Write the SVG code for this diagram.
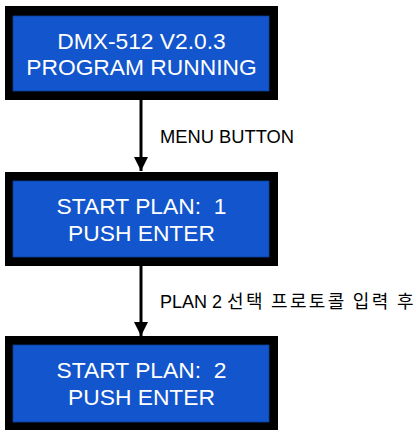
<svg xmlns="http://www.w3.org/2000/svg" width="416" height="435" viewBox="0 0 416 435">
<defs>
<style>
.frame{fill:#000}
.screen{fill:#1255cc;stroke:#0b3f99;stroke-width:0.8}
.lcd{font-family:"Liberation Sans",Arial,sans-serif;font-size:22.8px;fill:#fff;text-anchor:middle;white-space:pre}
.lbl{font-family:"Liberation Sans","Noto Sans CJK KR",sans-serif;font-size:18px;fill:#000}
.conn{stroke:#000;stroke-width:3;fill:none}
</style>
<marker id="ah" markerUnits="userSpaceOnUse" markerWidth="14" markerHeight="17" refX="14" refY="7" orient="auto">
<path d="M0,0 L14,7 L0,14 Z" fill="#000"/>
</marker>
</defs>
<rect width="416" height="435" fill="#fff"/>
<g id="connectors">
<line class="conn" x1="141" y1="100" x2="141" y2="171" marker-end="url(#ah)"/>
<line class="conn" x1="141" y1="266" x2="141" y2="336" marker-end="url(#ah)"/>
<text class="lbl" x="160" y="143" textLength="134" lengthAdjust="spacingAndGlyphs">MENU BUTTON</text>
<text class="lbl" x="160" y="308">PLAN 2 <tspan font-family="'Noto Sans CJK KR',sans-serif" letter-spacing="2.3">선택 프로토콜 입력 후</tspan></text>
</g>
<g id="node1">
<rect class="frame" x="5" y="6" width="273" height="94"/>
<rect class="screen" x="13" y="16" width="256" height="75"/>
<text class="lcd" x="141.5" y="49">DMX-512 V2.0.3</text>
<text class="lcd" x="141.5" y="75">PROGRAM RUNNING</text>
</g>
<g id="node2">
<rect class="frame" x="5" y="172" width="273" height="94"/>
<rect class="screen" x="13" y="181" width="256" height="76"/>
<text class="lcd" x="141.5" y="213.5" xml:space="preserve">START PLAN:  1</text>
<text class="lcd" x="141.5" y="240.5">PUSH ENTER</text>
</g>
<g id="node3">
<rect class="frame" x="5" y="336" width="273" height="94"/>
<rect class="screen" x="13" y="345" width="256" height="77"/>
<text class="lcd" x="141.5" y="378" xml:space="preserve">START PLAN:  2</text>
<text class="lcd" x="141.5" y="405">PUSH ENTER</text>
</g>
</svg>
